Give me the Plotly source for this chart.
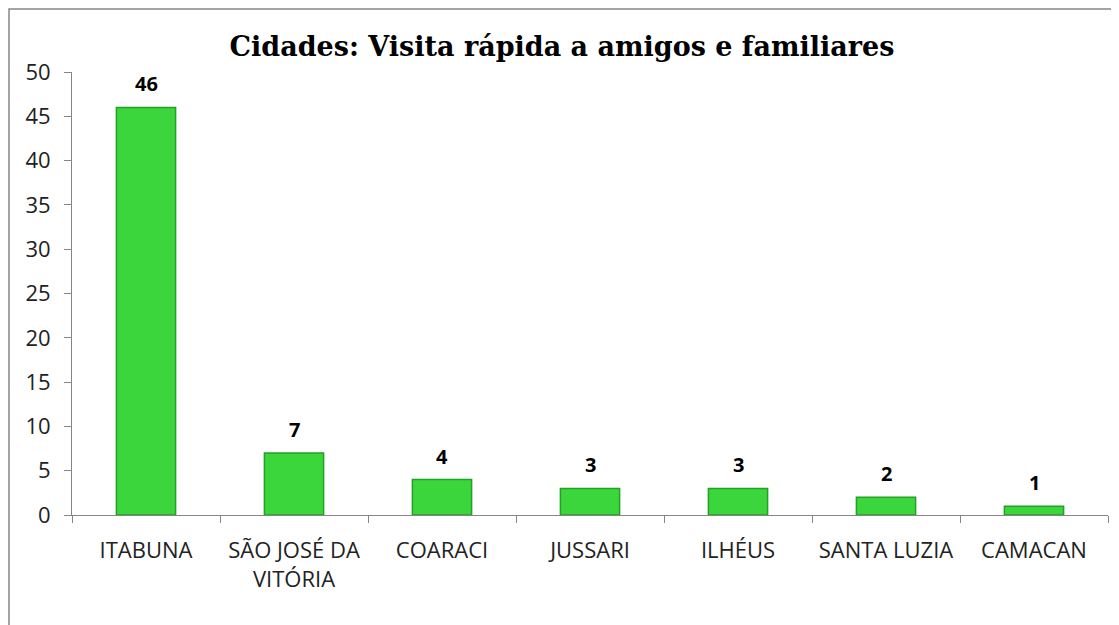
import plotly.graph_objects as go

cities = ["ITABUNA", "SÃO JOSÉ DA<br>VITÓRIA", "COARACI", "JUSSARI", "ILHÉUS", "SANTA LUZIA", "CAMACAN"]
values = [46, 7, 4, 3, 3, 2, 1]
title = "Cidades: Visita rápida a amigos e familiares"

# page has an 8px body margin; figure origin sits at (8, 8)
W, H = 1111, 617
ml, mr, mt, mb = 64, 11, 64, 110
pw, ph = W - ml - mr, H - mt - mb

fig = go.Figure()
fig.add_trace(go.Bar(
    x=cities, y=values,
    width=0.4,
    marker=dict(color="#3bd63b", line=dict(color="#25a025", width=1.5)),
    hoverinfo="x+y",
))

for c, v in zip(cities, values):
    fig.add_annotation(x=c, y=v, text="<b>%d</b>" % v, showarrow=False,
                       yanchor="bottom", yshift=8,
                       font=dict(family="Open Sans, sans-serif", size=20, color="#000000"))

fig.update_layout(
    width=W, height=H,
    margin=dict(l=ml, r=mr, t=mt, b=mb),
    paper_bgcolor="white", plot_bgcolor="white",
    showlegend=False,
    title=dict(text="<b>" + title + "</b>", x=(562 - 8) / W, xanchor="center",
               y=1 - (47 - 8) / H, yanchor="middle",
               font=dict(family="DejaVu Serif, serif", size=27, color="#000000")),
    xaxis=dict(
        showline=True, linecolor="#868686", linewidth=1,
        ticks="outside", tickson="boundaries", ticklen=7, tickcolor="#868686",
        tickfont=dict(family="Open Sans, sans-serif", size=22, color="#222222"),
        ticklabelstandoff=16,
        showgrid=False,
    ),
    yaxis=dict(
        range=[0, 50], tickvals=list(range(0, 51, 5)),
        showline=True, linecolor="#868686", linewidth=1,
        ticks="outside", ticklen=7, tickcolor="#868686",
        tickfont=dict(family="Open Sans, sans-serif", size=22, color="#222222"),
        ticklabelstandoff=9,
        showgrid=False, zeroline=False,
    ),
    bargap=0.6,
)

# outer chart border (top and left visible)
fig.add_shape(type="rect", xref="paper", yref="paper",
              x0=(1 - ml) / pw, x1=(W + 20 - ml) / pw,
              y0=-(mb + 30) / ph, y1=1 + (mt - 1) / ph,
              line=dict(color="#868686", width=1.5), fillcolor="rgba(0,0,0,0)", layer="below")

fig.write_html("out.html")
